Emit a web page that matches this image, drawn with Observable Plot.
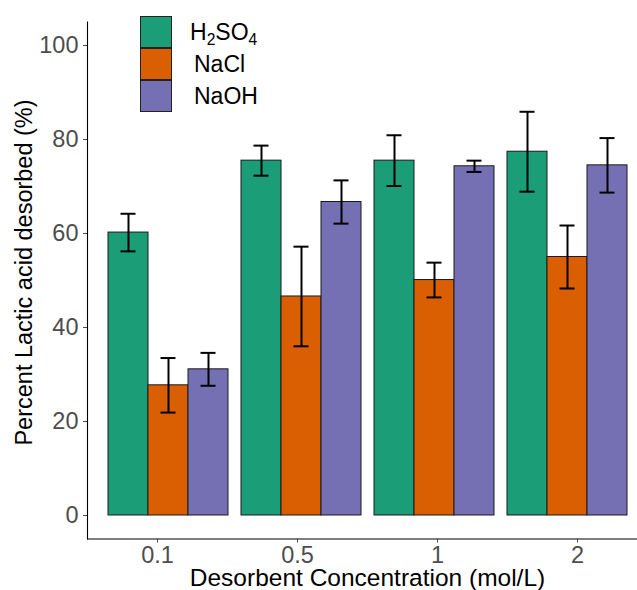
<!DOCTYPE html>
<html>
<head>
<meta charset="utf-8">
<script src="https://cdn.jsdelivr.net/npm/d3@7"></script>
<script src="https://cdn.jsdelivr.net/npm/@observablehq/plot@0.6"></script>
<style>
  body { margin: 0; background: #fff; font-family: "Liberation Sans", Arial, sans-serif; }
  #chart { position: relative; width: 637px; height: 590px; overflow: hidden; }
  #chart svg { position: absolute; left: 0; top: 0; }
  .legend { position: absolute; left: 140px; top: 16px; }
  .legend .row { display: flex; align-items: center; height: 32px; }
  .legend .swatch { width: 30px; height: 30px; border: 1px solid #222; box-sizing: content-box; }
  .legend .label { font-size: 23px; color: #000; margin-left: 18px; line-height: 1; }
  .legend .label.plain { margin-left: 22px; }
  .legend sub { font-size: 0.68em; vertical-align: -0.3em; line-height: 0; }
</style>
</head>
<body>
<div id="chart"></div>
<script>
// Lactic acid desorption by desorbent type and concentration (mean ± error)
const concentrations = ["0.1", "0.5", "1", "2"];
const desorbents = ["H2SO4", "NaCl", "NaOH"];
const legendLabels = ["H<sub>2</sub>SO<sub>4</sub>", "NaCl", "NaOH"];
const colors = ["#1B9E77", "#D95F02", "#7570B3"];

const h2so4 = [60.2, 75.5, 75.5, 77.4];
const h2so4Err = [4.0, 3.2, 5.4, 8.5];
const nacl = [27.7, 46.6, 50.1, 55.0];
const naclErr = [5.8, 10.6, 3.7, 6.7];
const naoh = [31.1, 66.7, 74.3, 74.5];
const naohErr = [3.5, 4.6, 1.2, 5.8];

const yTicks = [0, 20, 40, 60, 80, 100];
const yTitle = "Percent Lactic acid desorbed (%)";
const xTitle = "Desorbent Concentration (mol/L)";

const values = [h2so4, nacl, naoh];
const errors = [h2so4Err, naclErr, naohErr];
const rows = desorbents.flatMap((d, i) =>
  concentrations.map((c, j) => ({conc: c, desorbent: d, value: values[i][j], err: errors[i][j]}))
);

const font = "'Liberation Sans', Arial, sans-serif";
const layout = {width: 637, height: 590, marginLeft: 87, marginRight: -10, marginTop: 21.5, marginBottom: 51.5};
const yDomain = [-5, 105];
const bandPadding = {paddingInner: 0.1, paddingOuter: 0.15};

// Axes, axis lines and titles
const axes = Plot.plot({
  ...layout,
  style: {background: "transparent", fontFamily: font},
  x: {domain: concentrations, ...bandPadding},
  y: {domain: yDomain},
  marks: [
    Plot.frame({anchor: "left", stroke: "#000", strokeWidth: 1.1}),
    Plot.frame({anchor: "bottom", stroke: "#000", strokeWidth: 1.1}),
    Plot.axisY(yTicks, {tickSize: 4, tickPadding: 5, fontSize: 23.5, color: "#4D4D4D", label: null}),
    Plot.axisX({tickSize: 4, tickPadding: 3, fontSize: 23.5, color: "#4D4D4D", label: null}),
    Plot.text([yTitle], {frameAnchor: "left", textAnchor: "middle", lineAnchor: "middle", rotate: -90, dx: -63, dy: -8, fontSize: 23.5, fill: "#000"}),
    Plot.text([xTitle], {frameAnchor: "bottom", textAnchor: "middle", lineAnchor: "middle", dy: 39, fontSize: 24.5, fill: "#000"})
  ]
});

// Grouped bars with error bars, one facet per concentration
const bars = Plot.plot({
  ...layout,
  style: {background: "transparent", fontFamily: font},
  fx: {domain: concentrations, ...bandPadding, axis: null},
  x: {domain: desorbents, padding: 0, axis: null},
  y: {domain: yDomain, axis: null},
  color: {domain: desorbents, range: colors},
  marks: [
    Plot.barY(rows, {fx: "conc", x: "desorbent", y1: 0, y2: "value", fill: "desorbent", stroke: "#1a1a1a", strokeWidth: 1}),
    Plot.ruleX(rows, {fx: "conc", x: "desorbent", y1: d => d.value - d.err, y2: d => d.value + d.err, stroke: "#000", strokeWidth: 2}),
    Plot.tickY(rows, {fx: "conc", x: "desorbent", y: d => d.value - d.err, insetLeft: 12.5, insetRight: 12.5, stroke: "#000", strokeWidth: 2}),
    Plot.tickY(rows, {fx: "conc", x: "desorbent", y: d => d.value + d.err, insetLeft: 12.5, insetRight: 12.5, stroke: "#000", strokeWidth: 2})
  ]
});

const chart = document.getElementById("chart");
chart.append(axes, bars);

// Legend
const legend = d3.select(chart).append("div").attr("class", "legend");
const items = legend.selectAll(".row").data(desorbents).join("div").attr("class", "row");
items.append("div").attr("class", "swatch").style("background", (d, i) => colors[i]);
items.append("div")
  .attr("class", (d, i) => "label" + (legendLabels[i].includes("<sub>") ? "" : " plain"))
  .html((d, i) => legendLabels[i]);
</script>
</body>
</html>
